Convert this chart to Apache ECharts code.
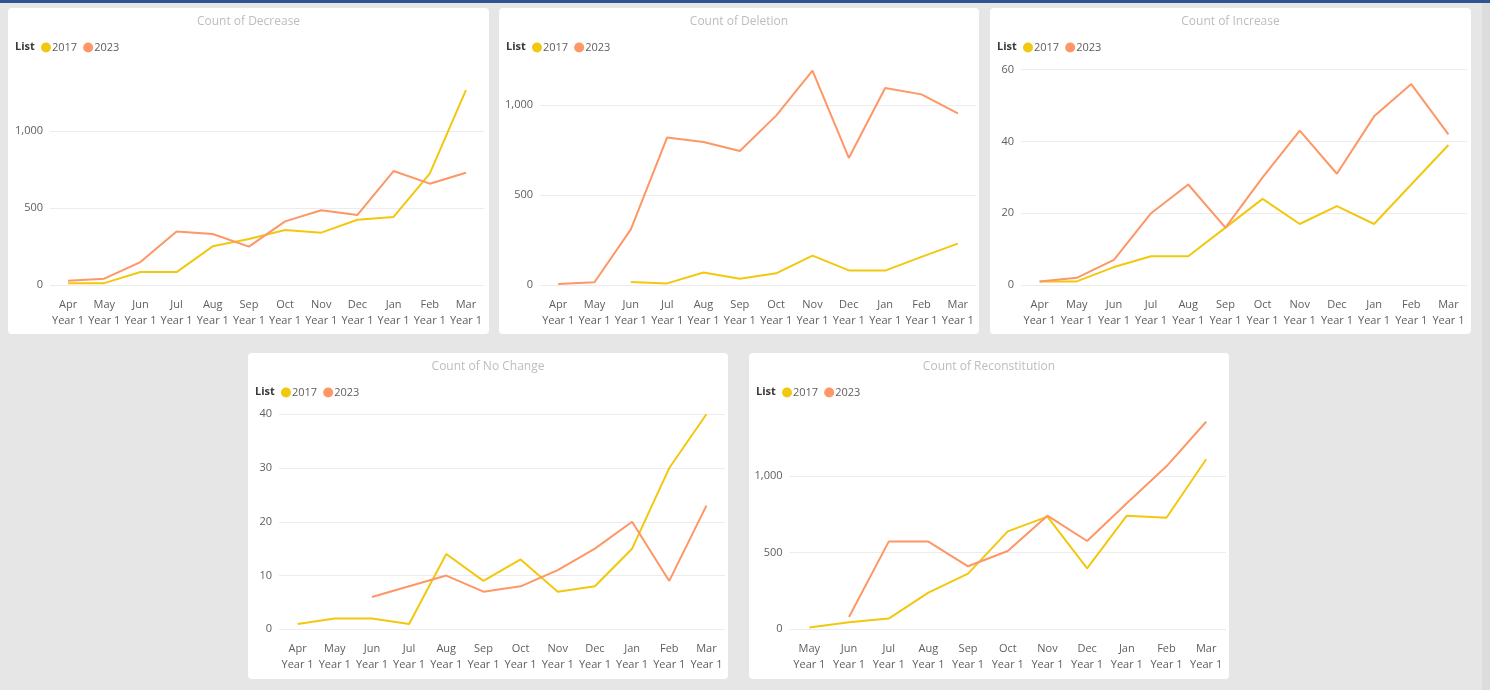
<!DOCTYPE html>
<html>
<head>
<meta charset="utf-8">
<script src="https://cdn.jsdelivr.net/npm/echarts@6/dist/echarts.min.js"></script>
<style>
  html, body { margin: 0; padding: 0; }
  body { width: 1490px; height: 690px; background: #e6e6e6; position: relative; overflow: hidden;
         font-family: 'Segoe UI', 'Open Sans', sans-serif; }
  .topbar { position: absolute; left: 0; top: 0; width: 1490px; height: 3px; background: #2e5591; }
  .edge { position: absolute; left: 1482px; top: 3px; width: 8px; height: 687px; background: #dcdcdc; }
  .panel { position: absolute; background: #fff; border-radius: 4px; }
</style>
</head>
<body>
<div class="topbar"></div>
<div class="edge"></div>
<div id="p1" class="panel" style="left:8px;top:8px;width:481px;height:326px"></div>
<div id="p2" class="panel" style="left:499px;top:8px;width:480px;height:326px"></div>
<div id="p3" class="panel" style="left:990px;top:8px;width:481px;height:326px"></div>
<div id="p4" class="panel" style="left:248px;top:353px;width:480px;height:326px"></div>
<div id="p5" class="panel" style="left:749px;top:353px;width:480px;height:326px"></div>
<script>
// data
const months = ['Apr', 'May', 'Jun', 'Jul', 'Aug', 'Sep', 'Oct', 'Nov', 'Dec', 'Jan', 'Feb', 'Mar'];
const monthsFromMay = ['May', 'Jun', 'Jul', 'Aug', 'Sep', 'Oct', 'Nov', 'Dec', 'Jan', 'Feb', 'Mar'];
const seriesNames = ['2017', '2023'];

const decrease2017 = [11, 12, 84, 84, 251, 299, 357, 340, 424, 442, 723, 1266];
const decrease2023 = [28, 41, 149, 348, 331, 249, 413, 485, 455, 740, 658, 729];

const deletion2017 = [null, null, 17, 9, 69, 35, 65, 163, 81, 80, 156, 230];
const deletion2023 = [6, 15, 309, 820, 794, 744, 941, 1191, 706, 1094, 1059, 954];

const increase2017 = [1, 1, 5, 8, 8, 16, 24, 17, 22, 17, 28, 39];
const increase2023 = [1, 2, 7, 20, 28, 16, 30, 43, 31, 47, 56, 42];

const noChange2017 = [1, 2, 2, 1, 14, 9, 13, 7, 8, 15, 30, 40];
const noChange2023 = [null, null, 6, 8, 10, 7, 8, 11, 15, 20, 9, 23];

const recon2017 = [11, 46, 70, 239, 363, 639, 735, 398, 741, 728, 1109];
const recon2023 = [null, 80, 572, 572, 411, 511, 741, 576, 822, 1063, 1354];

const colors = ['#F2C80F', '#FE9666'];
const font = "'Segoe UI', 'Open Sans', sans-serif";

function makeChart(id, title, cats, a, b, axis, grid) {
    const chart = echarts.init(document.getElementById(id));
    const options = {
        animation: false,
        color: colors,
        title: [
            { text: title, left: 'center', top: 3,
              textStyle: { fontFamily: font, fontSize: 12, fontWeight: 'normal', color: '#bdbdbd' } },
            { text: 'List', left: 7, top: 33, padding: 0,
              textStyle: { fontFamily: font, fontSize: 11, fontWeight: 'bold', color: '#3b3a39' } }
        ],
        legend: {
            left: 33, top: 34, padding: 0,
            icon: 'circle', itemWidth: 10, itemHeight: 10, itemGap: 6,
            textStyle: { fontFamily: font, fontSize: 11, color: '#605e5c', padding: [0, 0, 0, -4] },
            data: seriesNames
        },
        grid: grid,
        xAxis: {
            type: 'category',
            data: cats,
            axisLine: { show: false },
            axisTick: { show: false },
            axisLabel: {
                interval: 0, margin: 12, lineHeight: 16,
                fontFamily: font, fontSize: 11, color: '#605e5c',
                formatter: v => v + '\nYear 1'
            }
        },
        yAxis: {
            type: 'value',
            min: 0, max: axis.max, interval: axis.interval,
            axisLabel: {
                margin: axis.margin, fontFamily: font, fontSize: 11, color: '#605e5c',
                showMaxLabel: axis.showMax,
                formatter: v => v.toLocaleString('en-US')
            },
            splitLine: { showMaxLine: axis.showMax, lineStyle: { color: '#ececec', width: 1 } }
        },
        series: [
            { name: seriesNames[0], type: 'line', data: a, symbol: 'none',
              lineStyle: { width: 2 }, connectNulls: false },
            { name: seriesNames[1], type: 'line', data: b, symbol: 'none',
              lineStyle: { width: 2 }, connectNulls: false }
        ]
    };
    chart.setOption(options);
}

makeChart('p1', 'Count of Decrease', months, decrease2017, decrease2023,
    { max: 1450, interval: 500, showMax: false, margin: 7 },
    { left: 42, right: 5, top: 53.7, bottom: 49 });
makeChart('p2', 'Count of Deletion', months, deletion2017, deletion2023,
    { max: 1250, interval: 500, showMax: false, margin: 7 },
    { left: 41, right: 3, top: 52, bottom: 49 });
makeChart('p3', 'Count of Increase', months, increase2017, increase2023,
    { max: 60, interval: 20, showMax: true, margin: 7 },
    { left: 31, right: 4, top: 61.7, bottom: 49 });
makeChart('p4', 'Count of No Change', months, noChange2017, noChange2023,
    { max: 40, interval: 10, showMax: true, margin: 7 },
    { left: 31, right: 3, top: 61.3, bottom: 49.7 });
makeChart('p5', 'Count of Reconstitution', monthsFromMay, recon2017, recon2023,
    { max: 1450, interval: 500, showMax: false, margin: 7 },
    { left: 40.5, right: 3, top: 54, bottom: 49.7 });
</script>
</body>
</html>
